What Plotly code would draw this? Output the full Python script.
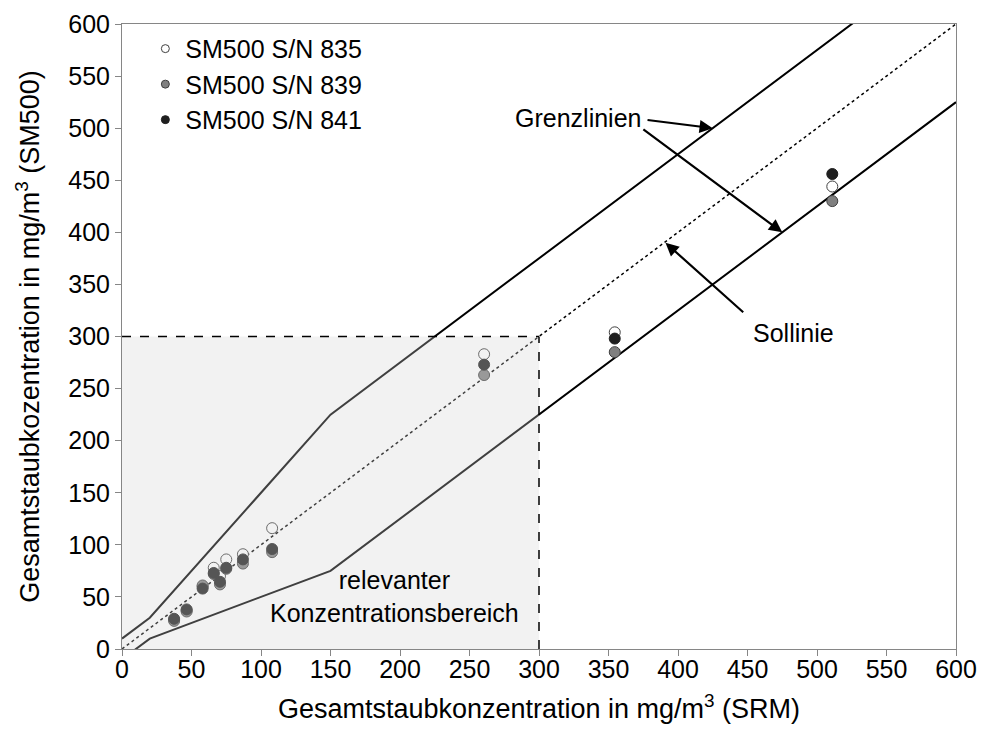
import plotly.graph_objects as go

# Reference concentrations (SRM) in mg/m3
srm = [37.5, 46.5, 58, 66, 70.5, 75, 87, 108, 260.5, 354.5, 511]

# SM500 readings per instrument in mg/m3
sn835 = [28, 37, 60, 78, 70, 86, 91, 116, 283, 304, 444]
sn839 = [27, 36, 61, 72, 62, 77, 82, 93, 263, 285, 430]
sn841 = [29, 38, 58, 73, 64.5, 78, 86, 96, 273, 298, 456]

# Limit lines (breakpoints) and target line
limit_x = [0, 20, 150, 600]
upper_y = [10, 30, 225, 675]
lower_y = [-10, 10, 75, 525]
target_x = [0, 600]
target_y = [0, 600]

# Relevant concentration range
rel_max = 300

ticks = list(range(0, 601, 50))
FONT = "Liberation Sans, Arial, sans-serif"

fig = go.Figure()

fig.add_trace(go.Scatter(x=limit_x, y=upper_y, mode="lines",
                         line=dict(color="#000000", width=2), showlegend=False, hoverinfo="skip"))
fig.add_trace(go.Scatter(x=limit_x, y=lower_y, mode="lines",
                         line=dict(color="#000000", width=2), showlegend=False, hoverinfo="skip"))
fig.add_trace(go.Scatter(x=target_x, y=target_y, mode="lines",
                         line=dict(color="#000000", width=1.5, dash="dot"), showlegend=False, hoverinfo="skip"))

series = [
    ("SM500 S/N 835", sn835, "#ffffff", "#404040"),
    ("SM500 S/N 839", sn839, "#808080", "#404040"),
    ("SM500 S/N 841", sn841, "#1f1f1f", "#1f1f1f"),
]
for name, vals, fill, edge in series:
    fig.add_trace(go.Scatter(x=srm, y=vals, mode="markers", name=name, showlegend=False,
                             marker=dict(size=11, color=fill, line=dict(color=edge, width=1))))
for name, vals, fill, edge in series:
    fig.add_trace(go.Scatter(x=[None], y=[None], mode="markers", name=name,
                             marker=dict(size=8, color=fill, line=dict(color=edge, width=1))))

# Shaded relevant range, drawn over the data as a translucent veil
fig.add_shape(type="rect", x0=0, y0=0, x1=rel_max, y1=rel_max, xref="x", yref="y",
              fillcolor="rgba(213,213,213,0.3)", line=dict(width=0), layer="above")
fig.add_shape(type="line", x0=0, y0=rel_max, x1=rel_max, y1=rel_max, xref="x", yref="y",
              line=dict(color="#000000", width=1.5, dash="dash"), layer="above")
fig.add_shape(type="line", x0=rel_max, y0=0, x1=rel_max, y1=rel_max, xref="x", yref="y",
              line=dict(color="#000000", width=1.5, dash="dash"), layer="above")

tfont = dict(family=FONT, size=25, color="#000000")
title_font = dict(family=FONT, size=27, color="#000000")

def arrow(x, y, ax, ay):
    fig.add_annotation(x=x, y=y, ax=ax, ay=ay, xref="x", yref="y", axref="x", ayref="y",
                       text="", showarrow=True, arrowhead=2, arrowsize=1.2, arrowwidth=2.2,
                       arrowcolor="#000000")

arrow(425, 500, 377, 508)
arrow(475, 400, 374, 500)
arrow(391, 390, 448, 322)

fig.add_annotation(x=375, y=510, xref="x", yref="y", text="Grenzlinien", showarrow=False,
                   xanchor="right", font=tfont)
fig.add_annotation(x=483, y=303, xref="x", yref="y", text="Sollinie", showarrow=False, font=tfont)
fig.add_annotation(x=196, y=50, xref="x", yref="y", text="relevanter<br>Konzentrationsbereich",
                   showarrow=False, font=tfont)

axis_common = dict(range=[0, 600], tickvals=ticks, ticks="outside", ticklen=6, tickcolor="#868686",
                   showline=True, linecolor="#868686", linewidth=1, mirror=True, showgrid=False,
                   zeroline=False, tickfont=tfont, automargin=False)

fig.update_layout(
    width=983, height=736,
    margin=dict(l=122, r=27, t=24, b=87),
    paper_bgcolor="#ffffff", plot_bgcolor="#ffffff",
    font=dict(family=FONT, size=25, color="#000000"),
    xaxis=dict(title=dict(text="Gesamtstaubkonzentration in mg/m<sup>3</sup> (SRM)", font=title_font, standoff=17),
               ticklabelstandoff=-8, **axis_common),
    yaxis=dict(title=dict(text="Gesamtstaubkozentration in mg/m<sup>3</sup> (SM500)", font=title_font, standoff=20),
               **axis_common),
    legend=dict(x=0.028, y=0.997, xanchor="left", yanchor="top", bgcolor="rgba(0,0,0,0)",
                font=tfont, tracegroupgap=0, itemwidth=30),
    showlegend=True,
)

fig.write_html("out.html")
